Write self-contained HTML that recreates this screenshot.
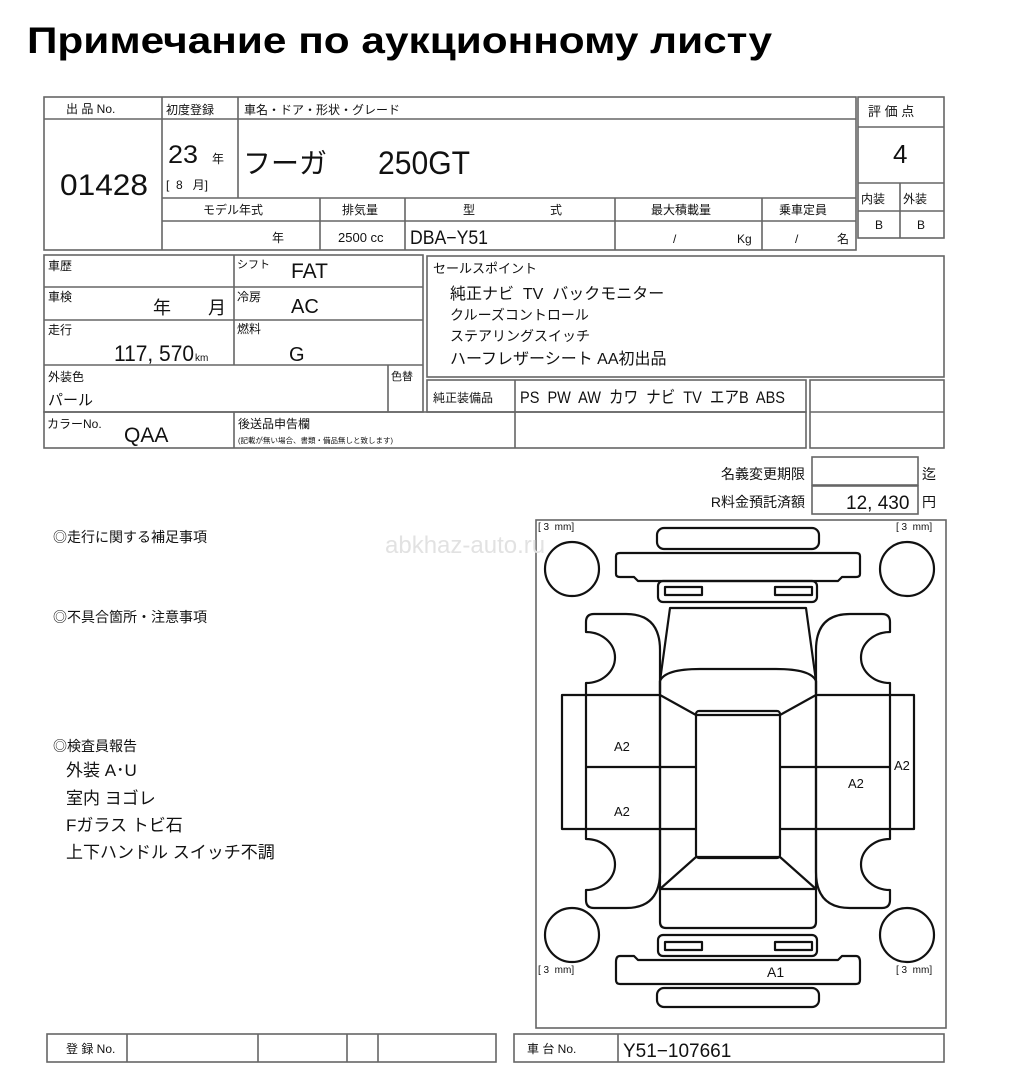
<!DOCTYPE html>
<html><head><meta charset="utf-8"><style>
html,body{margin:0;padding:0;background:#fff;width:1011px;height:1080px;overflow:hidden}
svg{display:block}
text{font-family:"Liberation Sans","Noto Sans CJK JP",sans-serif;fill:#111;white-space:pre}
.t{font-family:"Liberation Sans",sans-serif;font-weight:bold;fill:#000}
</style></head><body>
<svg width="1011" height="1080" viewBox="0 0 1011 1080" xmlns="http://www.w3.org/2000/svg" xml:space="preserve">
<text x="27" y="53" class="t" font-size="37" textLength="745" lengthAdjust="spacingAndGlyphs">Примечание по аукционному листу</text>

<g fill="none" stroke="#666" stroke-width="1.6">
<rect x="44" y="97" width="812" height="153"/>
<line x1="44" y1="119" x2="856" y2="119"/>
<line x1="162" y1="97" x2="162" y2="250"/>
<line x1="238" y1="97" x2="238" y2="198"/>
<line x1="162" y1="198" x2="856" y2="198"/>
<line x1="162" y1="221" x2="856" y2="221"/>
<line x1="320" y1="198" x2="320" y2="250"/>
<line x1="405" y1="198" x2="405" y2="250"/>
<line x1="615" y1="198" x2="615" y2="250"/>
<line x1="762" y1="198" x2="762" y2="250"/>
<rect x="858" y="97" width="86" height="141"/>
<line x1="858" y1="127" x2="944" y2="127"/>
<line x1="858" y1="183" x2="944" y2="183"/>
<line x1="858" y1="211" x2="944" y2="211"/>
<line x1="900" y1="183" x2="900" y2="238"/>
<rect x="44" y="255" width="379" height="157"/>
<line x1="44" y1="287" x2="423" y2="287"/>
<line x1="44" y1="320" x2="423" y2="320"/>
<line x1="44" y1="365" x2="423" y2="365"/>
<line x1="234" y1="255" x2="234" y2="365"/>
<line x1="388" y1="365" x2="388" y2="412"/>
<rect x="44" y="412" width="762" height="36"/>
<line x1="234" y1="412" x2="234" y2="448"/>
<line x1="515" y1="380" x2="515" y2="448"/>
<rect x="427" y="256" width="517" height="121"/>
<rect x="427" y="380" width="379" height="32"/>
<rect x="810" y="380" width="134" height="68"/>
<line x1="810" y1="412" x2="944" y2="412"/>
<rect x="812" y="457" width="106" height="28"/>
<rect x="812" y="486" width="106" height="28"/>
<rect x="536" y="520" width="410" height="508"/>
<rect x="47" y="1034" width="449" height="28"/>
<line x1="127" y1="1034" x2="127" y2="1062"/>
<line x1="258" y1="1034" x2="258" y2="1062"/>
<line x1="347" y1="1034" x2="347" y2="1062"/>
<line x1="378" y1="1034" x2="378" y2="1062"/>
<rect x="514" y="1034" width="430" height="28"/>
<line x1="618" y1="1034" x2="618" y2="1062"/>
</g>

<g fill="none" stroke="#111" stroke-width="2.2" stroke-linejoin="round">
<rect x="657" y="528" width="162" height="21" rx="7"/>
<path d="M616,556 Q616,553 620,553 L856,553 Q860,553 860,556 L860,574 Q860,577 856,577 L842,577 L838,581 L638,581 L634,577 L620,577 Q616,577 616,574 Z"/>
<rect x="658" y="581" width="159" height="21" rx="5"/>
<rect x="665" y="587" width="37" height="8"/>
<rect x="775" y="587" width="37" height="8"/>
<circle cx="572" cy="569" r="27"/>
<circle cx="907" cy="569" r="27"/>
<circle cx="572" cy="935" r="27"/>
<circle cx="907" cy="935" r="27"/>
<path d="M660,681 L670,608 L806,608 L816,681"/>
<path d="M660,681 Q665,669 700,669 L776,669 Q811,669 816,681 L816,695 L780,715 L696,715 L660,695 Z"/>
<rect x="696" y="711" width="84" height="147" rx="3"/>
<path d="M660,889 L696,857 L780,857 L816,889 Z"/>
<path d="M660,889 L660,922 Q660,928 666,928 L810,928 Q816,928 816,922 L816,889"/>
<line x1="660" y1="681" x2="660" y2="889"/>
<line x1="816" y1="681" x2="816" y2="889"/>
<path d="M586,693 L586,683 A29,25.5 0 0 0 586,632 L586,622 Q586,614 594,614 L626,614 Q660,614 660,650 L660,693"/>
<path d="M890,693 L890,683 A29,25.5 0 0 1 890,632 L890,622 Q890,614 882,614 L850,614 Q816,614 816,650 L816,693"/>
<path d="M586,829 L586,839 A29,25.5 0 0 1 586,890 L586,900 Q586,908 594,908 L626,908 Q660,908 660,872 L660,829"/>
<path d="M890,829 L890,839 A29,25.5 0 0 0 890,890 L890,900 Q890,908 882,908 L850,908 Q816,908 816,872 L816,829"/>
<rect x="562" y="695" width="98" height="134"/>
<line x1="586" y1="693" x2="586" y2="829"/>
<line x1="586" y1="767" x2="696" y2="767"/>
<line x1="660" y1="829" x2="696" y2="829"/>
<rect x="816" y="695" width="98" height="134"/>
<line x1="890" y1="693" x2="890" y2="829"/>
<line x1="780" y1="767" x2="890" y2="767"/>
<line x1="780" y1="829" x2="816" y2="829"/>
<rect x="658" y="935" width="159" height="21" rx="5"/>
<rect x="665" y="942" width="37" height="8"/>
<rect x="775" y="942" width="37" height="8"/>
<path d="M616,962 Q616,956 620,956 L634,956 L638,960 L838,960 L842,956 L856,956 Q860,956 860,962 L860,980 Q860,984 856,984 L620,984 Q616,984 616,980 Z"/>
<rect x="657" y="988" width="162" height="19" rx="7"/>
</g>

<g font-size="12">
<text x="66" y="113">出 品 No.</text>
<text x="166" y="114">初度登録</text>
<text x="244" y="114">車名・ドア・形状・グレード</text>
<text x="60" y="195" font-size="30" textLength="88" lengthAdjust="spacingAndGlyphs">01428</text>
<text x="168" y="163" font-size="25" textLength="30" lengthAdjust="spacingAndGlyphs">23</text>
<text x="212" y="163">年</text>
<text x="166" y="189">[  8   月]</text>
<text x="243" y="173" font-size="28">フーガ</text>
<text x="378" y="174" font-size="32" textLength="92" lengthAdjust="spacingAndGlyphs">250GT</text>
<text x="868" y="116" font-size="13">評 価 点</text>
<text x="893" y="163" font-size="26">4</text>
<text x="861" y="203">内装</text><text x="903" y="203">外装</text>
<text x="875" y="229">B</text><text x="917" y="229">B</text>
<text x="203" y="214">モデル年式</text>
<text x="342" y="214">排気量</text>
<text x="463" y="214">型</text>
<text x="550" y="214">式</text>
<text x="651" y="214">最大積載量</text>
<text x="779" y="214">乗車定員</text>
<text x="272" y="242">年</text>
<text x="338" y="242" font-size="13">2500 cc</text>
<text x="410" y="244" font-size="19" textLength="78" lengthAdjust="spacingAndGlyphs">DBA−Y51</text>
<text x="673" y="243">/</text><text x="737" y="243">Kg</text>
<text x="795" y="243">/</text><text x="837" y="243">名</text>

<text x="48" y="270">車歴</text>
<text x="237" y="268" font-size="11">シフト</text>
<text x="291" y="278" font-size="21">FAT</text>
<text x="48" y="301">車検</text>
<text x="153" y="314" font-size="18">年</text>
<text x="208" y="314" font-size="18">月</text>
<text x="237" y="301">冷房</text>
<text x="291" y="313" font-size="20">AC</text>
<text x="48" y="334">走行</text>
<text x="114" y="361" font-size="22" textLength="80" lengthAdjust="spacingAndGlyphs">117, 570</text>
<text x="195" y="361" font-size="10">km</text>
<text x="237" y="333">燃料</text>
<text x="289" y="361" font-size="20">G</text>
<text x="48" y="381">外装色</text>
<text x="48" y="405" font-size="15">パール</text>
<text x="391" y="380" font-size="11">色替</text>
<text x="47" y="428">カラーNo.</text>
<text x="124" y="442" font-size="21">QAA</text>
<text x="238" y="428">後送品申告欄</text>
<text x="238" y="443" font-size="7.5">(記載が無い場合、書類・備品無しと致します)</text>
<text x="433" y="273" font-size="13">セールスポイント</text>
<text x="450" y="299" font-size="16">純正ナビ  TV  バックモニター</text>
<text x="450" y="320" font-size="14">クルーズコントロール</text>
<text x="450" y="341" font-size="14">ステアリングスイッチ</text>
<text x="450" y="364" font-size="16">ハーフレザーシート AA初出品</text>
<text x="433" y="402" font-size="12">純正装備品</text>
<text x="520" y="403" font-size="17" textLength="265" lengthAdjust="spacingAndGlyphs">PS  PW  AW  カワ  ナビ  TV  エアB  ABS</text>
<text x="805" y="479" font-size="14" text-anchor="end">名義変更期限</text>
<text x="922" y="479" font-size="14">迄</text>
<text x="805" y="507" font-size="14" text-anchor="end">R料金預託済額</text>
<text x="846" y="509" font-size="19">12, 430</text>
<text x="922" y="507" font-size="14">円</text>

<text x="385" y="553" font-size="24" style="fill:#e2e2e2">abkhaz-auto.ru</text>
<text x="53" y="542" font-size="14">◎走行に関する補足事項</text>
<text x="53" y="622" font-size="14">◎不具合箇所・注意事項</text>
<text x="53" y="751" font-size="14">◎検査員報告</text>
<text x="66" y="776" font-size="17">外装 A･U</text>
<text x="66" y="804" font-size="17">室内 ヨゴレ</text>
<text x="66" y="831" font-size="17">Fガラス トビ石</text>
<text x="66" y="858" font-size="17">上下ハンドル スイッチ不調</text>

<text x="538" y="530" font-size="10">[ 3  mm]</text>
<text x="896" y="530" font-size="10">[ 3  mm]</text>
<text x="538" y="973" font-size="10">[ 3  mm]</text>
<text x="896" y="973" font-size="10">[ 3  mm]</text>
<text x="614" y="751" font-size="13">A2</text>
<text x="614" y="816" font-size="13">A2</text>
<text x="848" y="788" font-size="13">A2</text>
<text x="894" y="770" font-size="13">A2</text>
<text x="767" y="977" font-size="14">A1</text>

<text x="66" y="1053">登 録 No.</text>
<text x="527" y="1053">車 台 No.</text>
<text x="623" y="1057" font-size="19">Y51−107661</text>
</g>
</svg>
</body></html>
